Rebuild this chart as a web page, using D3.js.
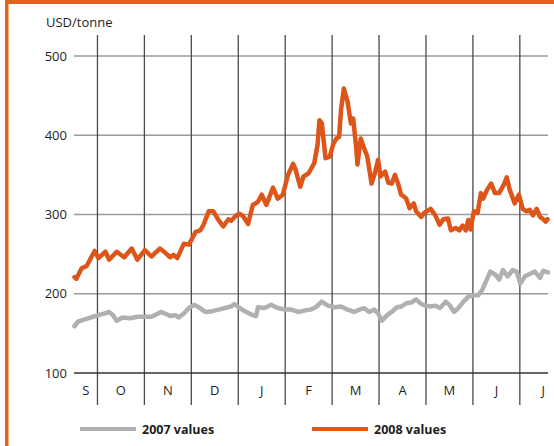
<!DOCTYPE html>
<html>
<head>
<meta charset="utf-8">
<script src="https://cdn.jsdelivr.net/npm/d3@7"></script>
<style>
  body { margin: 0; background: #fff; }
  text { font-family: "Open Sans", "DejaVu Sans", sans-serif; fill: #1e1e1e; }
</style>
</head>
<body>
<div id="chart"></div>
<script>
// month labels, first one is September 2007
var monthLabels = ["S", "O", "N", "D", "J", "F", "M", "A", "M", "J", "J"];
var yTicks = [100, 200, 300, 400, 500];

// [months after 1 Oct 2007, USD/tonne]
var series2007 = [
  [-0.49, 159], [-0.41, 165], [-0.30, 167], [-0.20, 169], [-0.09, 171], [0.02, 173],
  [0.14, 175], [0.25, 177], [0.33, 173], [0.41, 166], [0.53, 170], [0.69, 169],
  [0.85, 171], [1.01, 171], [1.15, 171], [1.26, 174], [1.35, 177], [1.44, 175],
  [1.55, 172], [1.66, 173], [1.73, 170], [1.84, 175], [1.95, 182], [2.06, 186],
  [2.13, 184], [2.23, 180], [2.30, 177], [2.44, 178], [2.58, 180], [2.72, 182],
  [2.85, 184], [2.92, 187], [3.03, 182], [3.17, 177], [3.31, 173], [3.38, 172],
  [3.42, 183], [3.56, 182], [3.70, 186], [3.84, 182], [3.99, 180], [4.13, 180],
  [4.28, 177], [4.43, 179], [4.54, 180], [4.65, 183], [4.78, 190], [4.91, 185],
  [5.06, 183], [5.19, 184], [5.33, 180], [5.47, 177], [5.58, 180], [5.68, 182],
  [5.79, 177], [5.90, 180], [5.98, 175], [6.06, 166], [6.17, 173], [6.27, 177],
  [6.38, 183], [6.48, 184], [6.58, 188], [6.69, 189], [6.79, 193], [6.90, 187],
  [7.00, 185], [7.10, 184], [7.20, 185], [7.30, 182], [7.42, 190], [7.50, 186],
  [7.60, 177], [7.69, 182], [7.80, 190], [7.90, 196], [8.00, 198], [8.11, 198],
  [8.20, 205], [8.26, 213], [8.37, 228], [8.48, 224], [8.56, 218], [8.64, 230],
  [8.74, 222], [8.85, 230], [8.93, 228], [9.01, 213], [9.11, 222], [9.21, 225],
  [9.32, 228], [9.43, 220], [9.50, 229], [9.60, 227]
];

var series2008 = [
  [-0.49, 221], [-0.45, 219], [-0.34, 232], [-0.23, 235], [-0.16, 243], [-0.06, 254],
  [0.02, 245], [0.17, 253], [0.25, 243], [0.41, 253], [0.57, 246], [0.73, 257],
  [0.85, 243], [1.01, 255], [1.15, 247], [1.33, 257], [1.44, 252], [1.55, 246],
  [1.62, 249], [1.70, 245], [1.84, 263], [1.95, 262], [2.09, 278], [2.19, 280],
  [2.26, 287], [2.37, 304], [2.47, 304], [2.58, 293], [2.68, 285], [2.79, 294],
  [2.85, 292], [2.96, 299], [3.03, 301], [3.10, 298], [3.21, 288], [3.31, 312],
  [3.42, 316], [3.50, 325], [3.60, 312], [3.74, 334], [3.84, 320], [3.95, 325],
  [4.06, 350], [4.17, 364], [4.22, 357], [4.32, 335], [4.39, 348], [4.50, 352],
  [4.62, 365], [4.69, 388], [4.73, 419], [4.78, 415], [4.86, 371], [4.95, 373],
  [5.02, 388], [5.09, 396], [5.15, 398], [5.19, 432], [5.25, 459], [5.33, 442],
  [5.40, 415], [5.45, 421], [5.51, 386], [5.54, 363], [5.61, 396], [5.68, 384],
  [5.75, 373], [5.84, 339], [5.91, 352], [5.98, 369], [6.03, 348], [6.13, 354],
  [6.20, 340], [6.27, 339], [6.34, 350], [6.41, 338], [6.47, 325], [6.52, 323],
  [6.58, 320], [6.65, 308], [6.74, 314], [6.79, 304], [6.90, 297], [6.96, 302],
  [7.10, 307], [7.20, 299], [7.29, 287], [7.37, 294], [7.47, 295], [7.53, 280],
  [7.63, 283], [7.71, 280], [7.78, 286], [7.85, 280], [7.90, 293], [7.95, 281],
  [8.02, 304], [8.10, 302], [8.17, 327], [8.22, 320], [8.30, 331], [8.39, 339],
  [8.47, 327], [8.56, 327], [8.67, 339], [8.72, 347], [8.78, 332], [8.89, 314],
  [8.98, 325], [9.06, 307], [9.14, 304], [9.21, 306], [9.28, 299], [9.36, 307],
  [9.43, 297], [9.50, 294], [9.55, 291], [9.59, 294]
];

var W = 554, H = 446;
var orange = "#dd5519", grey = "#b0b0b3";

var svg = d3.select("#chart")
  .append("svg")
    .attr("width", W)
    .attr("height", H);

// orange frame on top and left
svg.append("rect").attr("x", 5).attr("y", 0).attr("width", W - 5).attr("height", 4).attr("fill", "#e0621f");
svg.append("rect").attr("x", 5).attr("y", 0).attr("width", 3.5).attr("height", H).attr("fill", "#e0621f");

var x = d3.scaleLinear()
  .domain([-0.5, 9.6])
  .range([74, 548]);

var y = d3.scaleLinear()
  .domain([100, 500])
  .range([373, 56]);

// horizontal grid
svg.selectAll("hgrid")
  .data(yTicks.filter(function(d) { return d > 100; }))
  .enter()
  .append("line")
    .attr("x1", x.range()[0])
    .attr("x2", x.range()[1])
    .attr("y1", function(d) { return y(d); })
    .attr("y2", function(d) { return y(d); })
    .attr("stroke", "#9a9a9a")
    .attr("stroke-width", 1.6);

// month dividers
svg.selectAll("vgrid")
  .data(d3.range(0, 10))
  .enter()
  .append("line")
    .attr("x1", function(d) { return x(d); })
    .attr("x2", function(d) { return x(d); })
    .attr("y1", 35)
    .attr("y2", 405)
    .attr("stroke", "#4a4a4a")
    .attr("stroke-width", 1.3);

// x axis line at 100
svg.append("line")
  .attr("x1", x.range()[0])
  .attr("x2", x.range()[1])
  .attr("y1", y(100))
  .attr("y2", y(100))
  .attr("stroke", "#333")
  .attr("stroke-width", 1.5);

// y tick labels
svg.selectAll("ylab")
  .data(yTicks)
  .enter()
  .append("text")
    .attr("x", 67)
    .attr("y", function(d) { return y(d); })
    .attr("dy", "0.36em")
    .attr("text-anchor", "end")
    .style("font-size", "13px")
    .text(function(d) { return d; });

svg.append("text")
  .attr("x", 46)
  .attr("y", 27)
  .style("font-size", "13px")
  .text("USD/tonne");

// month labels
svg.selectAll("mlab")
  .data(monthLabels)
  .enter()
  .append("text")
    .attr("x", function(d, i) {
      var k = i - 1;
      return x((Math.max(k, x.domain()[0]) + k + 1) / 2);
    })
    .attr("y", 395)
    .attr("text-anchor", "middle")
    .style("font-size", "13px")
    .text(function(d) { return d; });

var line = d3.line()
  .x(function(d) { return x(d[0]); })
  .y(function(d) { return y(d[1]); });

svg.append("path")
  .datum(series2007)
  .attr("d", line)
  .attr("fill", "none")
  .attr("stroke", grey)
  .attr("stroke-width", 4.5)
  .attr("stroke-linejoin", "round")
  .attr("stroke-linecap", "round");

svg.append("path")
  .datum(series2008)
  .attr("d", line)
  .attr("fill", "none")
  .attr("stroke", orange)
  .attr("stroke-width", 4.5)
  .attr("stroke-linejoin", "round")
  .attr("stroke-linecap", "round");

// legend
var legend = [
  {label: "2007 values", color: grey, x: 80},
  {label: "2008 values", color: orange, x: 312}
];
var lg = svg.selectAll("legend")
  .data(legend)
  .enter()
  .append("g")
    .attr("transform", function(d) { return "translate(" + d.x + ",429)"; });
lg.append("line")
  .attr("x1", 0).attr("x2", 56)
  .attr("stroke", function(d) { return d.color; })
  .attr("stroke-width", 4);
lg.append("text")
  .attr("x", 62)
  .attr("dy", "0.36em")
  .style("font-size", "12.5px")
  .style("font-weight", "bold")
  .text(function(d) { return d.label; });
</script>
</body>
</html>
